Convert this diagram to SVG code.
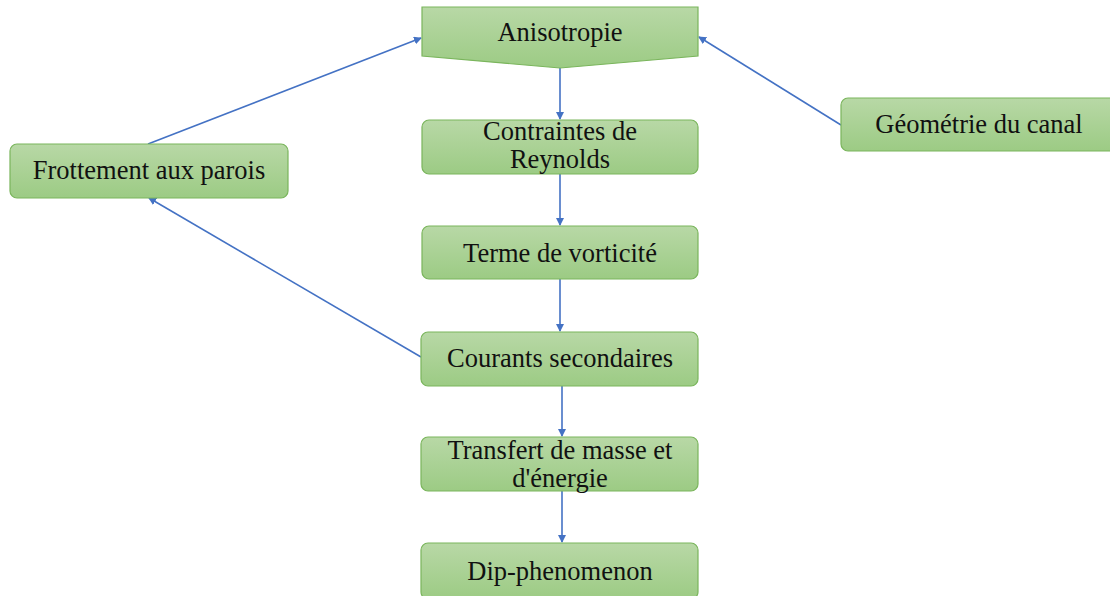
<svg xmlns="http://www.w3.org/2000/svg" width="1110" height="596" viewBox="0 0 1110 596">
<defs>
<linearGradient id="g" x1="0" y1="0" x2="0" y2="1">
<stop offset="0" stop-color="#b8d8a6"/>
<stop offset="1" stop-color="#9ccb84"/>
</linearGradient>
<marker id="arr" markerWidth="8" markerHeight="8" refX="7" refY="4" orient="auto" markerUnits="userSpaceOnUse">
<path d="M0,0 L8,4 L0,8 Z" fill="#4472c4"/>
</marker>
</defs>
<style>
.box{fill:url(#g);stroke:#7ab55c;stroke-width:1.2}
.t{font-family:"Liberation Serif","Times New Roman",serif;font-size:26.5px;fill:#111;text-anchor:middle}
.c{stroke:#4472c4;stroke-width:1.6;fill:none;marker-end:url(#arr)}
</style>
<rect width="1110" height="596" fill="#fff"/>
<g id="connectors">
<line class="c" x1="560" y1="68" x2="560" y2="119"/>
<line class="c" x1="560" y1="174" x2="560" y2="225"/>
<line class="c" x1="560" y1="279" x2="560" y2="331"/>
<line class="c" x1="562" y1="386" x2="562" y2="436"/>
<line class="c" x1="562" y1="491" x2="562" y2="542"/>
<line class="c" x1="148" y1="144" x2="421" y2="38"/>
<line class="c" x1="841" y1="125" x2="699" y2="37"/>
<line class="c" x1="421" y1="357" x2="149" y2="198"/>
</g>
<g id="anisotropie">
<polygon class="box" points="422,7 698,7 698,56 560,68 422,56"/>
<text class="t" x="560" y="41">Anisotropie</text>
</g>
<g id="contraintes">
<rect class="box" x="422" y="120" width="276" height="54" rx="7"/>
<text class="t" x="560" y="140">Contraintes de</text>
<text class="t" x="560" y="168">Reynolds</text>
</g>
<g id="terme">
<rect class="box" x="422" y="226" width="276" height="53" rx="7"/>
<text class="t" x="560" y="262">Terme de vorticité</text>
</g>
<g id="courants">
<rect class="box" x="421" y="332" width="277" height="54" rx="7"/>
<text class="t" x="560" y="367">Courants secondaires</text>
</g>
<g id="transfert">
<rect class="box" x="421" y="437" width="277" height="54" rx="7"/>
<text class="t" x="560" y="459">Transfert de masse et</text>
<text class="t" x="560" y="487">d'énergie</text>
</g>
<g id="dip">
<rect class="box" x="421" y="543" width="277" height="56" rx="7"/>
<text class="t" x="560" y="580">Dip-phenomenon</text>
</g>
<g id="frottement">
<rect class="box" x="10" y="144" width="278" height="54" rx="7"/>
<text class="t" x="149" y="179">Frottement aux parois</text>
</g>
<g id="geometrie">
<rect class="box" x="841" y="98" width="276" height="53" rx="7"/>
<text class="t" x="979" y="133">Géométrie du canal</text>
</g>
</svg>
